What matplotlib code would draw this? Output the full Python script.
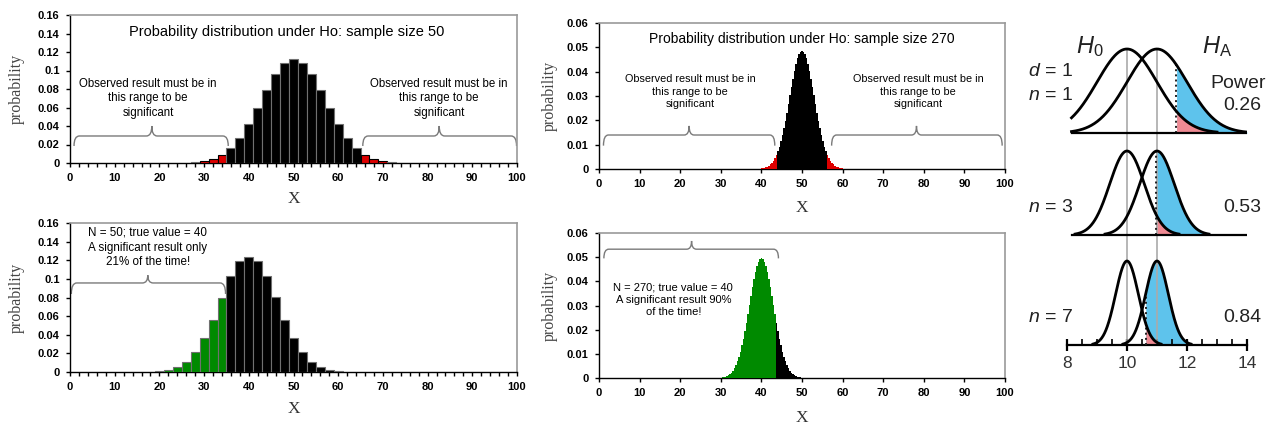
import numpy as np
import matplotlib
matplotlib.use("Agg")
import matplotlib.pyplot as plt
from matplotlib.path import Path
from matplotlib.patches import PathPatch
from matplotlib.ticker import MultipleLocator

plt.rcParams['font.family'] = ['Liberation Sans', 'DejaVu Sans']
plt.rcParams['mathtext.fontset'] = 'custom'
plt.rcParams['mathtext.rm'] = 'Liberation Sans'
plt.rcParams['mathtext.it'] = 'Liberation Sans:italic'

# ---------------- data ----------------
# sample size 50, H0 (true value 50)
x50_h0 = [28, 30, 32, 34, 36, 38, 40, 42, 44, 46, 48, 50,
          52, 54, 56, 58, 60, 62, 64, 66, 68, 70, 72]
p50_h0 = [0.001, 0.002, 0.0044, 0.0087, 0.016, 0.027, 0.0419, 0.0598, 0.0788, 0.096, 0.108, 0.1123,
          0.108, 0.096, 0.0788, 0.0598, 0.0419, 0.027, 0.016, 0.0087, 0.0044, 0.002, 0.001]

# sample size 50, true value 40
x50_ha = [20, 22, 24, 26, 28, 30, 32, 34, 36, 38, 40,
          42, 44, 46, 48, 50, 52, 54, 56, 58, 60]
p50_ha = [0.001, 0.002, 0.005, 0.011, 0.021, 0.037, 0.056, 0.080, 0.103, 0.119, 0.124,
          0.119, 0.103, 0.081, 0.056, 0.037, 0.021, 0.011, 0.005, 0.002, 0.001]

# sample size 270, H0: counts k = 108..162
k270_h0 = list(range(108, 163))
p270_h0 = [0.00022, 0.00032, 0.00047, 0.00068, 0.00096, 0.00135, 0.00185, 0.00251, 0.00335,
           0.00441, 0.00571, 0.00729, 0.00917, 0.01137, 0.01389, 0.01672, 0.01982, 0.02315,
           0.02665, 0.03023, 0.03378, 0.03719, 0.04035, 0.04313, 0.04543, 0.04714, 0.04820,
           0.04856,
           0.04820, 0.04714, 0.04543, 0.04313, 0.04035, 0.03719, 0.03378, 0.03023, 0.02665,
           0.02315, 0.01982, 0.01672, 0.01389, 0.01137, 0.00917, 0.00729, 0.00571, 0.00441,
           0.00335, 0.00251, 0.00185, 0.00135, 0.00096, 0.00068, 0.00047, 0.00032, 0.00022]

# sample size 270, true value 40: counts k = 81..135
k270_ha = list(range(81, 136))
p270_ha = [0.00018, 0.00027, 0.00040, 0.00058, 0.00084, 0.00118, 0.00165, 0.00226, 0.00306,
           0.00407, 0.00533, 0.00687, 0.00873, 0.01092, 0.01345, 0.01631, 0.01948, 0.02291,
           0.02653, 0.03025, 0.03396, 0.03754, 0.04087, 0.04380, 0.04624, 0.04805, 0.04918,
           0.04956,
           0.04918, 0.04805, 0.04624, 0.04380, 0.04087, 0.03754, 0.03396, 0.03025, 0.02653,
           0.02291, 0.01948, 0.01631, 0.01345, 0.01092, 0.00873, 0.00687, 0.00533, 0.00407,
           0.00306, 0.00226, 0.00165, 0.00118, 0.00084, 0.00058, 0.00040, 0.00027, 0.00018]

# power panel
n_values = [1, 3, 7]
sd_values = [1.0, 0.577, 0.378]
crit_values = [11.645, 10.95, 10.62]
power_labels = ['0.26', '0.53', '0.84']
mu_h0, mu_ha = 10, 11

obs_text = "Observed result must be in\nthis range to be\nsignificant"

RED = '#dd0000'
GREEN = '#008a00'

fig = plt.figure(figsize=(12.77, 4.28), dpi=100)
W, H = 1277, 428


def px_axes(l, t, r, b):
    return fig.add_axes([l / W, 1 - b / H, (r - l) / W, (b - t) / H])


def brace(ax, x0, x1, xm, y, ylow, ytip, r=1.2):
    verts = [(x0, ylow), (x0, y), (x0 + r, y),
             (xm - r, y), (xm, y), (xm, ytip),
             (xm, y), (xm + r, y),
             (x1 - r, y), (x1, y), (x1, ylow)]
    codes = [Path.MOVETO, Path.CURVE3, Path.CURVE3, Path.LINETO, Path.CURVE3, Path.CURVE3,
             Path.CURVE3, Path.CURVE3, Path.LINETO, Path.CURVE3, Path.CURVE3]
    ax.add_patch(PathPatch(Path(verts, codes), fc='none', ec='#7a7a7a', lw=1.0))


def style_prob_axes(ax, ymax, ystep, minor_x, xlab_y):
    ax.set_xlim(0, 100)
    ax.set_ylim(0, ymax)
    ax.set_yticks(np.arange(0, ymax + ystep / 2, ystep))
    ax.set_yticklabels(['0'] + [f'{v:g}' for v in np.arange(ystep, ymax + ystep / 2, ystep)])
    ax.xaxis.set_major_locator(MultipleLocator(10))
    if minor_x:
        ax.xaxis.set_minor_locator(MultipleLocator(2))
    ax.tick_params(axis='both', which='both', direction='out', length=3, width=1,
                   labelsize=8, pad=4.5)
    for lab in ax.get_xticklabels() + ax.get_yticklabels():
        lab.set_fontweight('bold')
    for s in ['top', 'right']:
        ax.spines[s].set_color('#9a9a9a')
        ax.spines[s].set_linewidth(1.2)
    for s in ['left', 'bottom']:
        ax.spines[s].set_linewidth(1.0)
    ax.set_ylabel('probability', family='Liberation Serif', fontsize=11.5, color='#444444')
    ax.yaxis.label.set_va('center')
    ax.yaxis.set_label_coords(-0.12, 0.5)
    ax.set_xlabel('X', family='Liberation Serif', fontsize=12.5, color='#333333')
    ax.xaxis.label.set_va('center')
    ax.xaxis.set_label_coords(0.5, xlab_y)


# ---------------- top left: n = 50, H0 ----------------
ax1 = px_axes(70, 15, 517, 163)
cols = [RED if (x <= 34 and x >= 30) or (x >= 66 and x <= 70) else 'black' for x in x50_h0]
edges = ['black' if c == RED else '#707070' for c in cols]
ax1.bar(x50_h0, p50_h0, width=2, color=cols, edgecolor=edges, linewidth=0.8, zorder=3)
style_prob_axes(ax1, 0.16, 0.02, True, -0.24)
ax1.text(48.5, 0.1415, "Probability distribution under Ho: sample size 50",
         ha='center', va='center', fontsize=10.5)
ax1.text(17.5, 0.070, obs_text, ha='center', va='center', fontsize=8.3, linespacing=1.3)
ax1.text(82.6, 0.070, obs_text, ha='center', va='center', fontsize=8.3, linespacing=1.3)
brace(ax1, 0.9, 35.4, 18.3, 0.0292, 0.0184, 0.040)
brace(ax1, 65.5, 99.9, 82.6, 0.0292, 0.0184, 0.040)

# ---------------- bottom left: n = 50, true value 40 ----------------
ax2 = px_axes(70, 223, 517, 372)
cols = [GREEN if x <= 34 else 'black' for x in x50_ha]
ax2.bar(x50_ha, p50_ha, width=2, color=cols, edgecolor='#707070', linewidth=0.8, zorder=3)
style_prob_axes(ax2, 0.16, 0.02, True, -0.245)
ax2.text(17.4, 0.1335, "N = 50; true value = 40\nA significant result only\n21% of the time!",
         ha='center', va='center', fontsize=8.4, linespacing=1.3)
brace(ax2, 0.3, 34.8, 17.4, 0.0956, 0.0838, 0.104)

# ---------------- top middle: n = 270, H0 ----------------
ax3 = px_axes(599, 23, 1005, 169)
x3 = [k / 270 * 100 for k in k270_h0]
cols = [RED if abs(k - 135) >= 17 else 'black' for k in k270_h0]
ax3.bar(x3, p270_h0, width=100 / 270 * 1.05, color=cols, edgecolor='none', zorder=3)
style_prob_axes(ax3, 0.06, 0.01, False, -0.27)
ax3.text(49.9, 0.0533, "Probability distribution under Ho: sample size 270",
         ha='center', va='center', fontsize=10)
ax3.text(22.4, 0.0318, obs_text, ha='center', va='center', fontsize=7.8, linespacing=1.3)
ax3.text(78.6, 0.0318, obs_text, ha='center', va='center', fontsize=7.8, linespacing=1.3)
brace(ax3, 1.1, 43.3, 22.2, 0.01397, 0.0096, 0.0177)
brace(ax3, 57.3, 99.3, 78.2, 0.01397, 0.0096, 0.0177)

# ---------------- bottom middle: n = 270, true value 40 ----------------
ax4 = px_axes(599, 233, 1005, 378)
x4 = [k / 270 * 100 for k in k270_ha]
cols = [GREEN if k <= 117 else 'black' for k in k270_ha]
ax4.bar(x4, p270_ha, width=100 / 270 * 1.05, color=cols, edgecolor='none', zorder=3)
style_prob_axes(ax4, 0.06, 0.01, False, -0.275)
ax4.text(18.3, 0.0323, "N = 270; true value = 40\nA significant result 90%\nof the time!",
         ha='center', va='center', fontsize=8, linespacing=1.3)
brace(ax4, 1.2, 44.2, 22.8, 0.0533, 0.0495, 0.0567)

# ---------------- right: power curves ----------------
ax5 = px_axes(1067, 30, 1247, 345)
ax5.patch.set_alpha(0)
ax5.set_xlim(8, 14)
ax5.set_ylim(0, 315)
baselines = [212, 110, 0]
peak = 84
for i, (sd, crit, base) in enumerate(zip(sd_values, crit_values, baselines)):
    x0 = np.linspace(max(8.15, mu_h0 - 3 * sd), min(14, mu_h0 + 3 * sd), 300)
    xa = np.linspace(max(8.15, mu_ha - 3 * sd), min(14, mu_ha + 3 * sd), 300)
    y0 = base + peak * np.exp(-0.5 * ((x0 - mu_h0) / sd) ** 2)
    ya = base + peak * np.exp(-0.5 * ((xa - mu_ha) / sd) ** 2)
    m0 = x0 >= crit
    ma = xa >= crit
    ax5.fill_between(xa[ma], base, ya[ma], color='#5ec3ec', lw=0, zorder=1)
    ax5.fill_between(x0[m0], base, y0[m0], color='#ef8a93', lw=0, zorder=1.5)
    hcrit = base + peak * np.exp(-0.5 * ((crit - mu_ha) / sd) ** 2)
    ax5.plot([crit, crit], [base, hcrit], color='#222222', ls=':', lw=1.4, zorder=3)
    ax5.plot(x0, y0, color='black', lw=2, zorder=4)
    ax5.plot(xa, ya, color='black', lw=2, zorder=4)
    if base > 0:
        ax5.plot([8.15, 14], [base, base], color='black', lw=1.6, zorder=4)
    ax5.text(13.83, base + 28, power_labels[i], ha='center', va='center', fontsize=14,
             color='#222222', clip_on=False)
    ax5.text(6.7, base + 28 if i else 249, f'$n$ = {n_values[i]}', ha='left', va='center',
             fontsize=14, color='#222222', clip_on=False)

for xv in [mu_h0, mu_ha]:
    ax5.plot([xv, xv], [0, baselines[0] + peak], color='#aaaaaa', lw=1.2, zorder=2)

ax5.text(6.7, 273, '$d$ = 1', ha='left', va='center', fontsize=14, color='#222222', clip_on=False)
ax5.text(13.7, 262, 'Power', ha='center', va='center', fontsize=14, color='#222222', clip_on=False)
ax5.text(8.3, 286, '$H_0$', ha='left', va='bottom', fontsize=17, color='#222222', clip_on=False)
ax5.text(12.5, 286, r'$H_{\rm A}$', ha='left', va='bottom', fontsize=17, color='#222222', clip_on=False)

for s in ['left', 'right', 'top']:
    ax5.spines[s].set_visible(False)
ax5.spines['bottom'].set_linewidth(1.6)
ax5.set_yticks([])
ax5.set_xticks([8, 10, 12, 14])
ax5.xaxis.set_minor_locator(MultipleLocator(0.5))
ax5.tick_params(axis='x', which='major', direction='inout', length=8, width=1.6,
                labelsize=12.5, labelcolor='#333333', pad=4)
ax5.tick_params(axis='x', which='minor', direction='in', length=4, width=1.2)

fig.savefig('out.png', dpi=100)
